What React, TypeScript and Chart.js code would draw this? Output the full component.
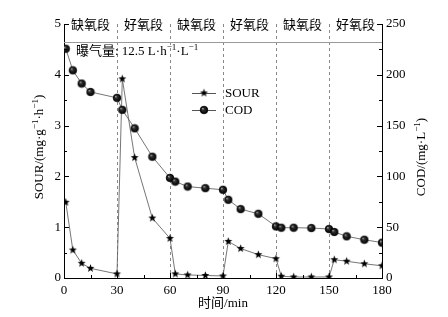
import React, { useEffect, useRef } from "react";
import { Chart, registerables } from "chart.js";
Chart.register(...registerables);

const timeMin = [1, 5, 10, 15, 30, 33, 40, 50, 60, 63, 70, 80, 90, 93, 100, 110, 120, 123, 130, 140, 150, 153, 160, 170, 180];
const sourValues = [1.49, 0.55, 0.29, 0.19, 0.08, 3.92, 2.37, 1.18, 0.78, 0.08, 0.06, 0.05, 0.04, 0.72, 0.58, 0.46, 0.38, 0.035, 0.02, 0.02, 0.02, 0.36, 0.33, 0.28, 0.24];
const codValues = [225.7, 204.4, 191.4, 183.1, 177.3, 165.5, 147.3, 119.4, 98.5, 94.9, 90, 88.4, 86.8, 77, 67.8, 63.2, 50.8, 49.5, 49.5, 49.2, 48.2, 45.3, 41, 37.7, 34.8];
const phaseBounds = [30, 60, 90, 120, 150];
const phaseLabels = ["缺氧段", "好氧段", "缺氧段", "好氧段", "缺氧段", "好氧段"];
const phaseStarts = [0, 30, 60, 90, 120, 150];
const bandLineSour = 4.65;

const FONT = "'Liberation Serif', 'Noto Sans CJK SC', serif";

type Part = { t: string; sup?: boolean };

function makeStar(r: number): HTMLCanvasElement {
  const c = document.createElement("canvas");
  const s = Math.ceil(2 * r + 2);
  c.width = s;
  c.height = s;
  const g = c.getContext("2d")!;
  const cx = s / 2, cy = s / 2;
  g.beginPath();
  for (let i = 0; i < 10; i++) {
    const a = -Math.PI / 2 + (i * Math.PI) / 5;
    const rr = i % 2 ? r * 0.42 : r;
    const x = cx + rr * Math.cos(a), y = cy + rr * Math.sin(a);
    if (i === 0) g.moveTo(x, y); else g.lineTo(x, y);
  }
  g.closePath();
  g.fillStyle = "#000";
  g.fill();
  return c;
}

function makeBall(r: number): HTMLCanvasElement {
  const c = document.createElement("canvas");
  const s = Math.ceil(2 * r + 2);
  c.width = s;
  c.height = s;
  const g = c.getContext("2d")!;
  const cx = s / 2, cy = s / 2;
  const grad = g.createRadialGradient(cx - r * 0.35, cy - r * 0.4, 0, cx, cy, r);
  grad.addColorStop(0, "#c8c8c8");
  grad.addColorStop(0.3, "#333");
  grad.addColorStop(1, "#000");
  g.beginPath();
  g.arc(cx, cy, r, 0, Math.PI * 2);
  g.fillStyle = grad;
  g.fill();
  g.lineWidth = 0.8;
  g.strokeStyle = "#000";
  g.stroke();
  return c;
}

function richWidth(ctx: CanvasRenderingContext2D, parts: Part[], size: number) {
  let w = 0;
  for (const p of parts) {
    ctx.font = `${p.sup ? size * 0.7 : size}px ${FONT}`;
    w += ctx.measureText(p.t).width;
  }
  return w;
}

function drawRich(ctx: CanvasRenderingContext2D, parts: Part[], x: number, y: number, size: number) {
  let cx = x;
  ctx.textBaseline = "alphabetic";
  ctx.textAlign = "left";
  for (const p of parts) {
    const fs = p.sup ? size * 0.7 : size;
    ctx.font = `${fs}px ${FONT}`;
    ctx.fillText(p.t, cx, p.sup ? y - size * 0.4 : y);
    cx += ctx.measureText(p.t).width;
  }
}

export default function App() {
  const ref = useRef<HTMLCanvasElement | null>(null);
  useEffect(() => {
    if (!ref.current) return;
    const star = makeStar(4.2);
    const ball = makeBall(3.8);
    const sourData = timeMin.map((t, i) => ({ x: t, y: sourValues[i] }));
    const codData = timeMin.map((t, i) => ({ x: t, y: codValues[i] }));

    const deco = {
      id: "deco",
      beforeDatasetsDraw(chart: any) {
        const ctx = chart.ctx as CanvasRenderingContext2D;
        const { top, bottom, left, right } = chart.chartArea;
        const xs = chart.scales.x;
        const ys = chart.scales.y;
        ctx.save();
        ctx.strokeStyle = "#888";
        ctx.lineWidth = 1;
        ctx.setLineDash([3, 3]);
        for (const b of phaseBounds) {
          const px = Math.round(xs.getPixelForValue(b)) + 0.5;
          ctx.beginPath();
          ctx.moveTo(px, top);
          ctx.lineTo(px, bottom);
          ctx.stroke();
        }
        ctx.setLineDash([]);
        ctx.strokeStyle = "#999";
        const py = Math.round(ys.getPixelForValue(bandLineSour)) + 0.5;
        ctx.beginPath();
        ctx.moveTo(left, py);
        ctx.lineTo(right, py);
        ctx.stroke();
        ctx.restore();
      },
      afterDraw(chart: any) {
        const ctx = chart.ctx as CanvasRenderingContext2D;
        const { top, bottom, left, right } = chart.chartArea;
        const xs = chart.scales.x;
        const ys = chart.scales.y;
        const y1 = chart.scales.y1;
        ctx.save();
        ctx.strokeStyle = "#000";
        ctx.lineWidth = 1;
        for (let t = 0; t <= 180; t += 15) {
          const px = Math.round(xs.getPixelForValue(t)) + 0.5;
          const len = t % 30 === 0 ? 5 : 3;
          ctx.beginPath();
          ctx.moveTo(px, bottom);
          ctx.lineTo(px, bottom - len);
          ctx.stroke();
        }
        for (let v = 0; v <= 5.0001; v += 0.5) {
          const py = Math.round(ys.getPixelForValue(v)) + 0.5;
          const len = Math.abs(v - Math.round(v)) < 1e-6 ? 5 : 3;
          ctx.beginPath();
          ctx.moveTo(left, py);
          ctx.lineTo(left + len, py);
          ctx.stroke();
        }
        for (let v = 0; v <= 250; v += 25) {
          const py = Math.round(y1.getPixelForValue(v)) + 0.5;
          const len = v % 50 === 0 ? 5 : 3;
          ctx.beginPath();
          ctx.moveTo(right, py);
          ctx.lineTo(right - len, py);
          ctx.stroke();
        }
        ctx.fillStyle = "#000";
        ctx.font = `13px ${FONT}`;
        ctx.textAlign = "center";
        ctx.textBaseline = "middle";
        phaseLabels.forEach((lab, i) => {
          const cx = xs.getPixelForValue(phaseStarts[i] + 15);
          ctx.fillText(lab, cx, top + 2);
        });
        drawRich(
          ctx,
          [
            { t: "曝气量: 12.5 L·h" },
            { t: "−1", sup: true },
            { t: "·L" },
            { t: "−1", sup: true },
          ],
          left + 12,
          top + 31,
          13
        );
        const lx0 = 192, lx1 = 216, lsy = 93, lcy = 110;
        ctx.strokeStyle = "#555";
        ctx.lineWidth = 1;
        for (const ly of [lsy, lcy]) {
          ctx.beginPath();
          ctx.moveTo(lx0, ly + 0.5);
          ctx.lineTo(lx1, ly + 0.5);
          ctx.stroke();
        }
        ctx.drawImage(star, (lx0 + lx1) / 2 - star.width / 2, lsy - star.height / 2);
        ctx.drawImage(ball, (lx0 + lx1) / 2 - ball.width / 2, lcy - ball.height / 2);
        ctx.font = `13px ${FONT}`;
        ctx.textAlign = "left";
        ctx.textBaseline = "middle";
        ctx.fillText("SOUR", 225, lsy + 1);
        ctx.fillText("COD", 225, lcy + 1);
        ctx.font = `13px ${FONT}`;
        ctx.textAlign = "center";
        ctx.textBaseline = "middle";
        ctx.fillText("时间/min", (left + right) / 2 + 0, 304);
        const lt: Part[] = [
          { t: "SOUR/(mg·g" },
          { t: "−1", sup: true },
          { t: "·h" },
          { t: "−1", sup: true },
          { t: ")" },
        ];
        ctx.save();
        ctx.translate(43, (top + bottom) / 2 - 4);
        ctx.rotate(-Math.PI / 2);
        const lw = richWidth(ctx, lt, 13);
        drawRich(ctx, lt, -lw / 2, 0, 13);
        ctx.restore();
        const rt: Part[] = [{ t: "COD/(mg·L" }, { t: "−1", sup: true }, { t: ")" }];
        ctx.save();
        ctx.translate(425, (top + bottom) / 2 + 6);
        ctx.rotate(-Math.PI / 2);
        const rw = richWidth(ctx, rt, 13);
        drawRich(ctx, rt, -rw / 2, 0, 13);
        ctx.restore();
        ctx.restore();
      },
    };

    const tickFont = { family: FONT, size: 13 };
    const chart = new Chart(ref.current, {
      type: "line",
      data: {
        datasets: [
          {
            label: "COD",
            data: codData,
            yAxisID: "y1",
            borderColor: "#666",
            borderWidth: 0.9,
            pointStyle: ball as any,
            pointRadius: 4,
            tension: 0,
          },
          {
            label: "SOUR",
            data: sourData,
            yAxisID: "y",
            borderColor: "#666",
            borderWidth: 0.9,
            pointStyle: star as any,
            pointRadius: 4,
            tension: 0,
          },
        ],
      },
      options: {
        animation: false,
        responsive: false,
        maintainAspectRatio: false,
        layout: { padding: { top: 24, left: 0, right: 0, bottom: 0 } },
        plugins: { legend: { display: false }, tooltip: { enabled: false } },
        scales: {
          x: {
            type: "linear",
            min: 0,
            max: 180,
            ticks: { stepSize: 30, font: tickFont, color: "#000", padding: 5, maxRotation: 0 },
            grid: { drawOnChartArea: false, drawTicks: false },
            border: { display: true, color: "#000", width: 1 },
            afterFit: (s: any) => {
              s.height = 39;
            },
          },
          y: {
            type: "linear",
            position: "left",
            min: 0,
            max: 5,
            ticks: { stepSize: 1, font: tickFont, color: "#000", padding: 3 },
            grid: { drawOnChartArea: false, drawTicks: false },
            border: { display: true, color: "#000", width: 1 },
            afterFit: (s: any) => {
              s.width = 64;
            },
          },
          y1: {
            type: "linear",
            position: "right",
            min: 0,
            max: 250,
            ticks: { stepSize: 50, font: tickFont, color: "#000", padding: 4 },
            grid: { drawOnChartArea: false, drawTicks: false },
            border: { display: true, color: "#000", width: 1 },
            afterFit: (s: any) => {
              s.width = 66;
            },
          },
        },
      },
      plugins: [deco],
    });
    return () => chart.destroy();
  }, []);

  return (
    <div style={{ position: "absolute", left: 0, top: 0, width: 448, height: 317, background: "#fff" }}>
      <canvas ref={ref} width={448} height={317} style={{ width: 448, height: 317, display: "block" }} />
    </div>
  );
}
